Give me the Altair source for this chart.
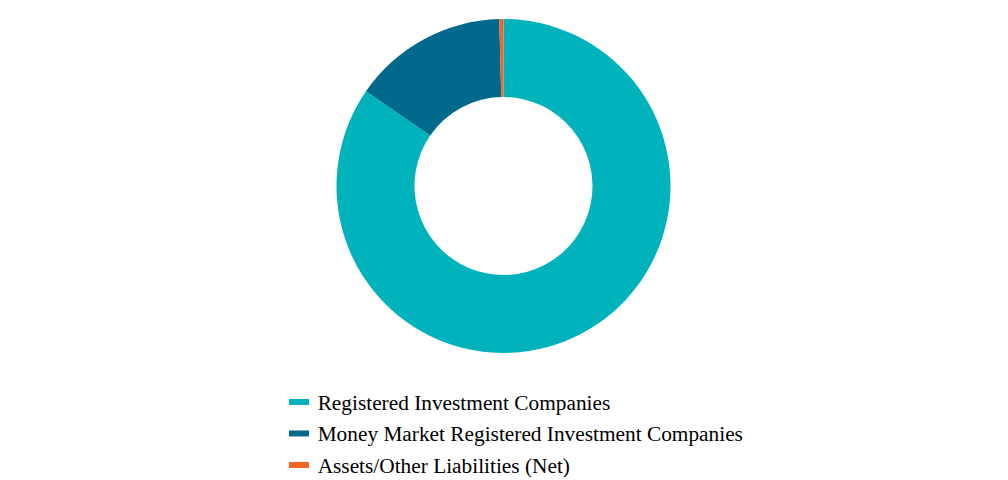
import altair as alt
import pandas as pd

categories = [
    "Registered Investment Companies",
    "Money Market Registered Investment Companies",
    "Assets/Other Liabilities (Net)",
]
values = [84.6, 15.0, 0.4]
colors = ["#00B2BB", "#00698C", "#F26522"]

df = pd.DataFrame({"category": categories, "value": values, "idx": list(range(len(categories)))})

chart = (
    alt.Chart(df)
    .mark_arc(outerRadius=167, innerRadius=89)
    .encode(
        theta=alt.Theta("value:Q", stack=True),
        order=alt.Order("idx:Q"),
        color=alt.Color(
            "category:N",
            scale=alt.Scale(domain=categories, range=colors),
            legend=alt.Legend(
                title=None,
                orient="none",
                legendX=280.3,
                legendY=385.3,
                padding=0,
                symbolType="M-1,-0.5H1V0.1H-1Z",
                symbolSize=400,
                symbolStrokeWidth=0,
                labelFont="Liberation Serif",
                labelFontSize=21.33,
                labelColor="#000000",
                labelOffset=8,
                rowPadding=9.5,
                labelLimit=700,
            ),
        ),
        x=alt.value(495.5),
        y=alt.value(178),
    )
    .properties(width=992, height=471, autosize="none", padding=0)
    .configure_view(stroke=None)
)

chart.save("out.html", embed_options={"renderer": "svg", "actions": False})
